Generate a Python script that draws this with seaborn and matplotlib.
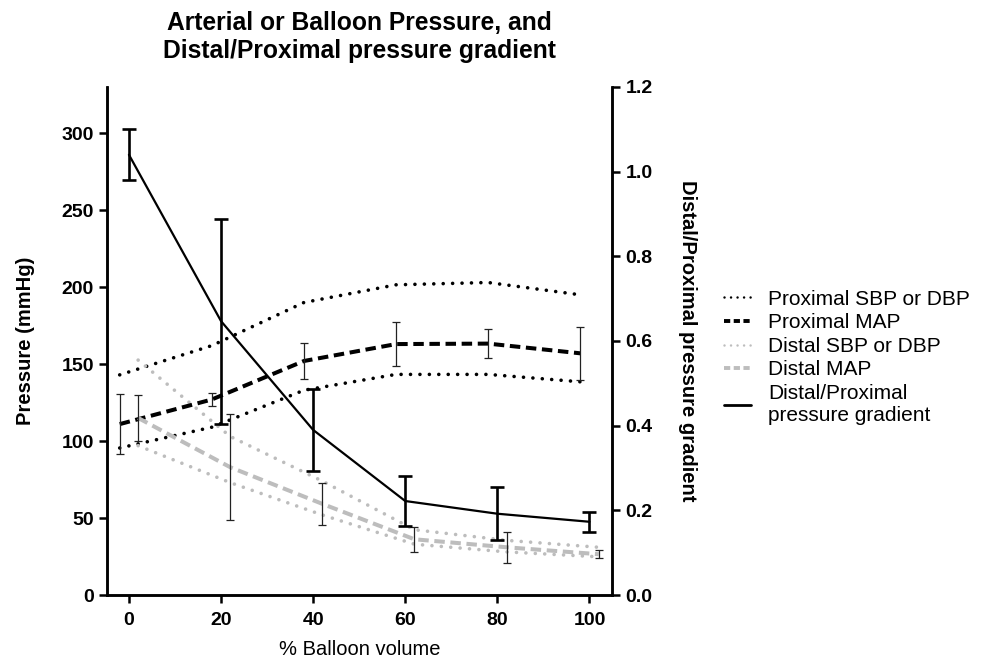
import matplotlib
matplotlib.use("Agg")
import matplotlib.pyplot as plt
import seaborn as sns
import pandas as pd
from matplotlib.lines import Line2D

# ---- data ----
balloon = [0, 20, 40, 60, 80, 100]
prox_sbp = [143, 162, 190, 201.5, 203, 195]
prox_map = [111, 127, 152, 163, 163.3, 157]
prox_dbp = [95.5, 109, 133, 143.3, 143.3, 138.5]
prox_map_err = [19.6, 4.3, 11.7, 14.3, 9.5, 17.3]
dist_sbp = [152.6, 103, 74, 42.4, 35.5, 31]
dist_map = [115, 83, 59.2, 36.2, 31, 26.5]
dist_dbp = [97, 73, 52, 33, 28, 24.8]
dist_map_err = [14.9, 34.5, 13.5, 8.1, 9.9, 2.5]
gradient = [1.04, 0.647, 0.39, 0.222, 0.192, 0.173]
gradient_err = [0.06, 0.242, 0.097, 0.058, 0.062, 0.023]

labels = ["Proximal SBP or DBP", "Proximal MAP", "Distal SBP or DBP",
          "Distal MAP", "Distal/Proximal\npressure gradient"]

sns.set_style("ticks")
plt.rcParams['font.family'] = ['Liberation Sans', 'DejaVu Sans']
plt.rcParams.update({"text.color": "black", "axes.labelcolor": "black",
                     "xtick.color": "black", "ytick.color": "black",
                     "axes.edgecolor": "black"})

fig = plt.figure(figsize=(9.82, 6.62), dpi=100)
ax = fig.add_axes([0.109, 0.1012, 0.5147, 0.7674])
ax2 = ax.twinx()

shift = 2.0
prox_x = [b - shift for b in balloon]
dist_x = [b + shift for b in balloon]

df_prox = pd.DataFrame({"x": prox_x, "sbp": prox_sbp, "map": prox_map, "dbp": prox_dbp})
df_dist = pd.DataFrame({"x": dist_x, "sbp": dist_sbp, "map": dist_map, "dbp": dist_dbp})
df_grad = pd.DataFrame({"x": balloon, "g": gradient})

dot = (0, (0.01, 2.6))
dash = (0, (2.6, 1.4))
gray = "#bdbdbd"

for col in ["sbp", "dbp"]:
    sns.lineplot(data=df_prox, x="x", y=col, ax=ax, color="black", lw=2.6,
                 linestyle=dot, dash_capstyle="round")
    sns.lineplot(data=df_dist, x="x", y=col, ax=ax, color=gray, lw=2.6,
                 linestyle=dot, dash_capstyle="round")
sns.lineplot(data=df_prox, x="x", y="map", ax=ax, color="black", lw=2.9, linestyle=dash)
sns.lineplot(data=df_dist, x="x", y="map", ax=ax, color=gray, lw=2.9, linestyle=dash)

ax.errorbar(prox_x, prox_map, yerr=prox_map_err, fmt="none", ecolor="#222222",
            elinewidth=0.9, capsize=3, capthick=0.9)
ax.errorbar(dist_x, dist_map, yerr=dist_map_err, fmt="none", ecolor="#222222",
            elinewidth=0.9, capsize=3, capthick=0.9)

sns.lineplot(data=df_grad, x="x", y="g", ax=ax2, color="black", lw=1.6)
ax2.errorbar(balloon, gradient, yerr=gradient_err, fmt="none", ecolor="black",
             elinewidth=1.9, capsize=5, capthick=1.9)

ax.set_xlim(-4.75, 105)
ax.set_ylim(0, 330)
ax2.set_ylim(0, 1.2)
ax.set_xticks(balloon)
ax.set_yticks([0, 50, 100, 150, 200, 250, 300])
ax2.set_yticks([0.0, 0.2, 0.4, 0.6, 0.8, 1.0, 1.2])
ax2.set_yticklabels(["0.0", "0.2", "0.4", "0.6", "0.8", "1.0", "1.2"])

for a in (ax, ax2):
    for s in a.spines.values():
        s.set_linewidth(1.8)
        s.set_color("black")
    a.spines["top"].set_visible(False)
    a.tick_params(width=1.8, length=6, labelsize=14, direction="out")
    for lab in a.get_xticklabels() + a.get_yticklabels():
        lab.set_fontweight("bold")
ax.tick_params(axis="x", pad=6)

ax.set_xlabel("% Balloon volume", fontsize=14.5, labelpad=8)
ax.set_ylabel("Pressure (mmHg)", fontsize=14.5, fontweight="bold", labelpad=19)
ax2.set_ylabel("Distal/Proximal pressure gradient", fontsize=14.5, fontweight="bold",
               rotation=-90, labelpad=32)
ax.set_title("Arterial or Balloon Pressure, and\nDistal/Proximal pressure gradient",
             fontsize=17.7, fontweight="bold", pad=21, linespacing=1.2)

handles = [
    Line2D([], [], color="black", lw=1.8, linestyle=(0, (0.01, 2.6)), dash_capstyle="round"),
    Line2D([], [], color="black", lw=2.8, linestyle=(0, (1.6, 0.9))),
    Line2D([], [], color=gray, lw=1.8, linestyle=(0, (0.01, 2.6)), dash_capstyle="round"),
    Line2D([], [], color=gray, lw=2.8, linestyle=(0, (1.6, 0.9))),
    Line2D([], [], color="black", lw=2.0),
]
fig.legend(handles, labels, loc="upper left", bbox_to_anchor=(0.729, 0.575),
           frameon=False, fontsize=15, handlelength=1.3, handletextpad=0.8,
           labelspacing=0.22, borderaxespad=0)

fig.savefig("out.png", dpi=100)
